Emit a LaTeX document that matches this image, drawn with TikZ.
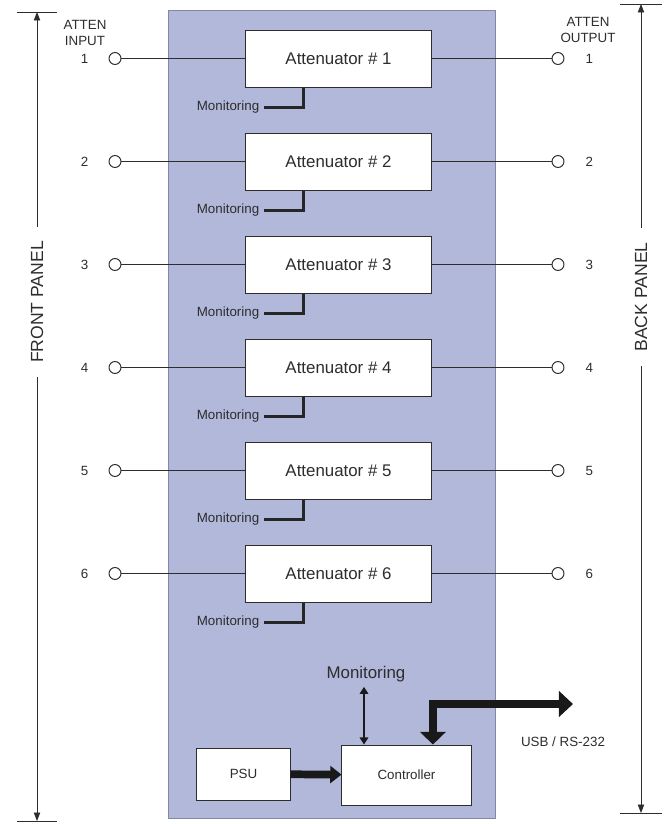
\documentclass[tikz,border=0pt]{standalone}
\usepackage{fontspec}
\setmainfont{Liberation Sans}
\usetikzlibrary{positioning,arrows.meta}
\definecolor{panelblue}{RGB}{178,184,218}
\definecolor{ink}{RGB}{45,45,45}

\begin{document}
\begin{tikzpicture}[x=0.025cm,y=-0.025cm]
  \tikzstyle{every node}=[text=ink]
  \tikzstyle{attbox}=[draw=ink,fill=white,line width=0.7pt,minimum width=4.625cm,minimum height=1.425cm,font=\fontsize{12}{14}\selectfont]
  \tikzstyle{port}=[circle,draw=ink,fill=white,line width=0.7pt,minimum size=8.5pt,inner sep=0pt]
  \tikzstyle{small}=[font=\fontsize{9.5}{11.5}\selectfont,inner sep=0pt]
  \tikzstyle{wire}=[draw=ink,line width=0.6pt]
  \tikzstyle{monline}=[draw=black!85,line width=2.8pt]
  \tikzstyle{fat}=[draw=black!90,line width=5.5pt]
  \tikzstyle{side}=[rotate=90,fill=white,inner xsep=10pt,inner ysep=2pt,font=\fontsize{12.5}{14}\selectfont]
  \useasboundingbox (0,0) rectangle (670,824);
  \draw[draw={rgb,255:red,130;green,135;blue,165},fill=panelblue] (168,10) rectangle (495,818);
  \foreach \i in {1,...,6}{
    \node[attbox] (att\i) at (338.5,{58.5+103*(\i-1)}) {Attenuator \# \i};
    \node[port] (in\i) at (115,{58.5+103*(\i-1)}) {};
    \node[port] (out\i) at (558,{58.5+103*(\i-1)}) {};
    \node[small,left=0.5cm of in\i] (inno\i) {\i};
    \node[small,right=0.52cm of out\i] (outno\i) {\i};
    \draw[wire] (in\i) -- (att\i);
    \draw[wire] (att\i) -- (out\i);
    \draw[monline] ([xshift=1.45cm]att\i.south west) |- ++(-40,20) coordinate (mon\i);
    \node[small,left=0.1cm of mon\i] (monlab\i) {Monitoring};
  }
  \node[small,align=center,font=\fontsize{9.5}{11.5}\selectfont] (inlab) at (85,33) {ATTEN\\INPUT};
  \node[small,align=center,font=\fontsize{9.5}{11.5}\selectfont] (outlab) at (588,30) {ATTEN\\OUTPUT};
  % front and back panel
  \coordinate (ftop) at (37,12);
  \coordinate (fbot) at (37,821);
  \coordinate (btop) at (641,4);
  \coordinate (bbot) at (641,813);
  \node[side] (flab) at (37,302) {FRONT PANEL};
  \node[side] (blab) at (641,297) {BACK PANEL};
  \draw[wire,-{Triangle[length=6pt,width=4.5pt]}] (flab) -- (ftop);
  \draw[wire,-{Triangle[length=6pt,width=4.5pt]}] (flab) -- (fbot);
  \draw[wire,-{Triangle[length=6pt,width=4.5pt]}] (blab) -- (btop);
  \draw[wire,-{Triangle[length=6pt,width=4.5pt]}] (blab) -- (bbot);
  \draw[wire] ([xshift=-0.5cm]ftop) -- ([xshift=0.5cm]ftop);
  \draw[wire] ([xshift=-0.5cm]fbot) -- ([xshift=0.5cm]fbot);
  \draw[wire] ([xshift=-0.52cm]btop) -- ([xshift=0.52cm]btop);
  \draw[wire] ([xshift=-0.52cm]bbot) -- ([xshift=0.52cm]bbot);
  % psu and controller
  \node[draw=ink,fill=white,line width=0.7pt,minimum width=2.325cm,minimum height=1.3cm,font=\fontsize{9.5}{11}\selectfont] (psu) at (243.5,774) {PSU};
  \node[draw=ink,fill=white,line width=0.7pt,minimum width=3.225cm,minimum height=1.5cm,font=\fontsize{9.5}{11}\selectfont] (ctrl) at (406.5,775) {Controller};
  \draw[fat,-{Triangle[length=8pt,width=12pt]}] (psu) -- (ctrl);
  \node[font=\fontsize{12}{14}\selectfont] (monctrl) at (366,674) {Monitoring};
  \draw[draw=black!90,line width=1.6pt,{Triangle[length=5pt,width=6pt]}-{Triangle[length=5pt,width=6pt]}] ([xshift=-0.05cm]monctrl.south) -- ([xshift=-0.05cm]monctrl.south |- ctrl.north);
  \coordinate (usb) at (573,704);
  \draw[fat,{Triangle[length=9pt,width=18pt]}-{Triangle[length=10pt,width=18pt]}] ([xshift=0.66cm]ctrl.north) |- (usb);
  \node[small] (usblab) at (563,742) {USB / RS-232};
\end{tikzpicture}
\end{document}
